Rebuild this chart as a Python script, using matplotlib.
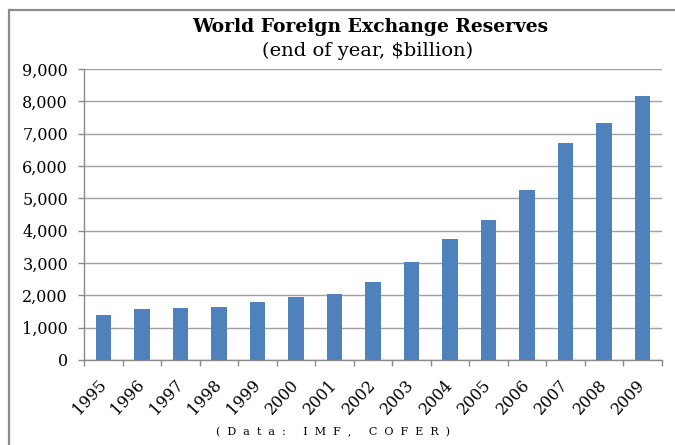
import matplotlib
matplotlib.use("Agg")
import matplotlib.pyplot as plt
from matplotlib.patches import Rectangle
from matplotlib.ticker import FuncFormatter, MultipleLocator
import numpy as np

years = ["1995", "1996", "1997", "1998", "1999", "2000", "2001", "2002",
         "2003", "2004", "2005", "2006", "2007", "2008", "2009"]
reserves = [1389, 1566, 1616, 1643, 1782, 1936, 2050, 2408,
            3025, 3748, 4320, 5251, 6699, 7338, 8165]

title = "World Foreign Exchange Reserves"
subtitle = "(end of year, $billion)"
footer = "(Data: IMF, COFER)"

plt.rcParams['font.family'] = ['DejaVu Serif']

W, H = 675, 445
fig = plt.figure(figsize=(W / 100, H / 100), dpi=100)
ax = fig.add_axes([84 / W, 1 - 360 / H, (662 - 84) / W, (360 - 69) / H])

x = np.arange(len(years))
ax.bar(x, reserves, width=0.4, color="#4F81BD", zorder=3)

ax.set_xlim(-0.5, len(years) - 0.5)
ax.set_ylim(0, 9000)
ax.yaxis.set_major_locator(MultipleLocator(1000))
ax.yaxis.set_major_formatter(FuncFormatter(lambda v, p: f"{int(v):,}"))
ax.grid(axis="y", color="#a0a0a0", linewidth=1.0, zorder=0)

ax.set_xticks(x)
ax.set_xticklabels(years, rotation=47, ha="right", va="center",
                   rotation_mode="anchor")
ax.set_xticks(np.arange(-0.5, len(years), 1.0), minor=True)
ax.tick_params(axis="x", which="major", length=0, pad=16, labelsize=11.5)
ax.tick_params(axis="x", which="minor", length=4.5, color="#8a8a8a", width=1.0)
ax.tick_params(axis="y", length=4.5, color="#8a8a8a", width=1.0, pad=7,
               labelsize=11.5)

for s in ["top", "right"]:
    ax.spines[s].set_visible(False)
for s in ["left", "bottom"]:
    ax.spines[s].set_color("#8a8a8a")
    ax.spines[s].set_linewidth(1.0)

fig.text(370 / W, 1 - 27 / H, title, ha="center", va="center",
         fontsize=13.5, fontweight="bold")
fig.text(368 / W, 1 - 51 / H, subtitle, ha="center", va="center",
         fontsize=14)
spaced = "  ".join(list(footer))
fig.text(333 / W, 1 - 432 / H, spaced, ha="center", va="center",
         fontsize=8)

border = Rectangle((9 / W, -0.2), 1.2, 1 - 9.5 / H + 0.2,
                   transform=fig.transFigure, fill=False,
                   edgecolor="#8c8c8c", linewidth=1.6)
fig.patches.append(border)

fig.savefig("out.png", dpi=100)
